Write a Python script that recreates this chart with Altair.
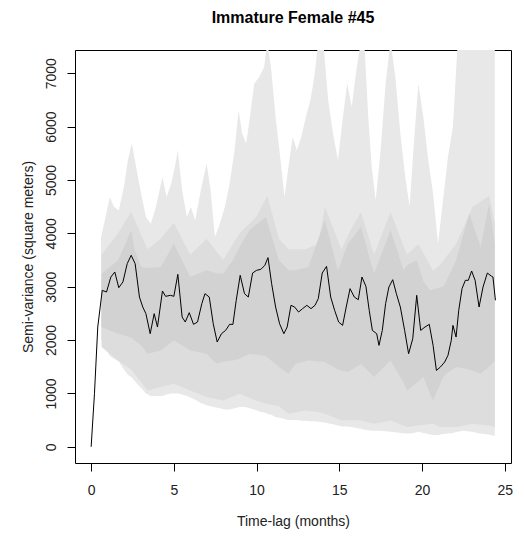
import altair as alt
import pandas as pd

# Empirical semi-variance (black line)
lag = [0.00, 0.20, 0.40, 0.67, 0.93, 1.19, 1.43, 1.67, 1.92, 2.18, 2.42, 2.66, 2.92, 3.12, 3.31, 3.57,
       3.81, 4.01, 4.31, 4.50, 4.80, 5.00, 5.24, 5.50, 5.69, 5.93, 6.19, 6.43, 6.69, 6.88, 7.14, 7.38,
       7.62, 7.88, 8.13, 8.37, 8.57, 8.77, 9.01, 9.27, 9.50, 9.76, 10.00, 10.26, 10.50, 10.69, 10.91,
       11.15, 11.39, 11.65, 11.85, 12.08, 12.30, 12.54, 12.78, 13.04, 13.29, 13.53, 13.73, 13.97,
       14.23, 14.48, 14.72, 14.96, 15.20, 15.42, 15.65, 15.91, 16.15, 16.37, 16.61, 16.81, 17.00,
       17.26, 17.40, 17.60, 17.80, 18.00, 18.23, 18.45, 18.69, 18.95, 19.19, 19.44, 19.68, 19.92,
       20.18, 20.44, 20.67, 20.87, 21.11, 21.37, 21.57, 21.77, 21.87, 22.06, 22.22, 22.42, 22.62,
       22.80, 23.00, 23.21, 23.45, 23.69, 23.95, 24.21, 24.29, 24.44]
semivar = [0, 994, 2244, 2931, 2900, 3181, 3275, 2981, 3088, 3431, 3588, 3431, 2806, 2619, 2494, 2119,
           2494, 2244, 2919, 2819, 2838, 2819, 3231, 2431, 2338, 2513, 2294, 2338, 2681, 2869, 2806, 2306,
           1963, 2119, 2181, 2294, 2294, 2744, 3213, 2869, 2806, 3256, 3306, 3325, 3400, 3544, 3056,
           2619, 2306, 2119, 2244, 2650, 2619, 2525, 2588, 2650, 2588, 2650, 2775, 3256,
           3381, 2806, 2556, 2338, 2275, 2619, 2963, 2806, 2756, 3181, 3006, 2556, 2181,
           2119, 1900, 2181, 2681, 2994, 3131, 2869, 2619, 2181, 1744, 2025, 2838, 2181,
           2244, 2294, 1900, 1431, 1494, 1588, 1713, 1994, 2275, 2056, 2556, 2963, 3119,
           3119, 3294, 3119, 2619, 2994, 3256, 3194, 3181, 2744]

# Outer (lightest) confidence band
outer_lag = [0.60, 0.87, 1.13, 1.39, 1.67, 1.98, 2.22, 2.46, 2.72, 3.02, 3.31, 3.61, 3.91, 4.31, 4.56,
             4.84, 5.06, 5.24, 5.50, 5.79, 6.03, 6.29, 6.63, 6.98, 7.22, 7.48, 7.78, 8.08, 8.37, 8.67,
             8.91, 9.13, 9.37, 9.60, 9.86, 10.16, 10.46, 10.65, 10.89, 11.15, 11.45, 11.69, 11.90,
             12.18, 12.44, 12.70, 12.98, 13.25, 13.49, 13.73, 14.03, 14.33, 14.62, 14.92, 15.22,
             15.48, 15.75, 16.03, 16.31, 16.51, 16.75, 16.96, 17.20, 17.50, 17.80, 18.10, 18.39,
             18.69, 18.99, 19.25, 19.48, 19.78, 20.08, 20.38, 20.67, 20.97, 21.27, 21.57, 21.87,
             22.16, 22.50, 23.00, 23.50, 24.00, 24.40]
outer_lo = [2000, 1850, 1700, 1650, 1600, 1450, 1350, 1300, 1200, 1100, 1000, 950, 950, 950, 980,
            1000, 1000, 1000, 980, 950, 920, 880, 820, 780, 760, 740, 720, 700, 700, 720,
            740, 750, 740, 720, 700, 660, 640, 620, 600, 560, 540, 520, 500,
            500, 500, 490, 490, 480, 480, 470, 460, 440, 420, 400, 380,
            380, 370, 350, 340, 320, 310, 300, 300, 300, 290, 280, 270,
            260, 250, 250, 260, 280, 260, 240, 220, 220, 240, 250, 260,
            280, 300, 280, 250, 230, 200]
outer_hi = [3931, 4306, 4681, 4494, 4431, 4869, 5369, 5681, 5244, 4744, 4306, 4181, 4494, 5056, 4681,
            4931, 5244, 5556, 4806, 4306, 4494, 4244, 4806, 5306, 4806, 3931, 4181, 4494, 4931, 5556,
            6306, 5869, 5681, 6181, 6806, 6931, 7119, 7600, 7056, 6181, 5369, 4681, 5181,
            5806, 5556, 5806, 6181, 6494, 6931, 7600, 7600, 6494, 5869, 5369, 6181,
            6806, 6369, 7056, 7600, 7600, 6181, 5244, 4619, 5556, 6806, 7600, 6931,
            5869, 5056, 4494, 5556, 6806, 6181, 5369, 4744, 3806, 4619, 5431, 5994,
            7600, 7600, 7600, 7600, 7600, 7600]

# Middle band
mid_lag = [0.63, 1.63, 2.42, 3.41, 4.21, 5.00, 5.99, 6.98, 7.98, 8.97, 9.96, 10.65, 11.35, 11.94,
           12.94, 13.73, 14.13, 15.12, 15.75, 16.31, 17.10, 18.10, 19.09, 19.78, 20.67, 21.07,
           22.06, 23.06, 24.05, 24.40]
mid_lo = [1869, 1619, 1450, 1056, 1119, 1181, 1056, 931, 869, 994, 869, 800, 760, 619,
          681, 650, 619, 494, 500, 494, 431, 494, 369, 400, 431, 369,
          369, 431, 400, 369]
mid_hi = [3600, 4000, 4400, 3700, 3900, 4200, 3600, 3900, 3500, 4000, 4300, 4700, 3900, 3700,
          3700, 3800, 4500, 3700, 4100, 4400, 3600, 4400, 3600, 3800, 3300, 3400,
          3800, 4500, 4700, 4200]

# Inner (darkest) band
inner_lag = [0.63, 1.63, 2.42, 2.62, 3.02, 3.41, 4.21, 5.00, 5.99, 6.98, 7.58, 7.98, 8.57, 8.97,
             9.56, 10.56, 11.35, 11.94, 12.34, 13.13, 14.13, 14.92, 15.52, 16.31, 17.10, 18.10,
             18.89, 19.09, 19.68, 20.08, 20.48, 20.67, 21.27, 21.47, 22.06, 22.86, 23.55, 24.05, 24.40]
inner_lo = [2244, 2119, 2050, 1994, 1900, 1744, 1806, 1994, 1806, 1744, 1556, 1600, 1619, 1650,
            1744, 1700, 1494, 1369, 1550, 1619, 1590, 1450, 1400, 1550, 1306, 1619,
            1200, 1056, 1200, 1306, 1000, 869, 1300, 1369, 1494, 1450, 1369, 1500, 1619]
inner_hi = [3244, 3494, 4056, 3700, 3369, 3350, 3369, 3806, 3181, 3306, 3250, 3244, 3500, 3744,
            4056, 4306, 3494, 3306, 3306, 3369, 4244, 3306, 3806, 4119, 3244, 4056,
            3306, 3400, 3494, 3100, 2931, 2950, 3000, 3100, 3494, 4369, 3744, 4556, 3806]

x_ticks = [0, 5, 10, 15, 20, 25]
y_ticks = [0, 1000, 2000, 3000, 4000, 5000, 6000, 7000]

line_df = pd.DataFrame({"lag": lag, "v": semivar})
outer_df = pd.DataFrame({"lag": outer_lag, "lo": outer_lo, "hi": outer_hi})
mid_df = pd.DataFrame({"lag": mid_lag, "lo": mid_lo, "hi": mid_hi})
inner_df = pd.DataFrame({"lag": inner_lag, "lo": inner_lo, "hi": inner_hi})

FONT = "Liberation Sans"
xscale = alt.Scale(domain=[-0.976, 25.38], nice=False, zero=False)
yscale = alt.Scale(domain=[-304, 7435], nice=False, zero=False)

xaxis = alt.Axis(values=x_ticks, title="Time-lag (months)", grid=False, domain=False,
                 tickSize=8, tickColor="black", labelPadding=12, titlePadding=17,
                 labelFontSize=14, titleFontSize=14, labelFont=FONT, titleFont=FONT,
                 titleFontWeight="normal", labelColor="#222222", titleColor="#222222")
yaxis = alt.Axis(values=y_ticks, title="Semi-variance (square meters)", grid=False, domain=False,
                 tickSize=8, tickColor="black", labelAngle=270, labelAlign="center",
                 labelBaseline="middle", labelPadding=16, titlePadding=9,
                 labelFontSize=14, titleFontSize=14, labelFont=FONT, titleFont=FONT,
                 titleFontWeight="normal", labelColor="#222222", titleColor="#222222",
                 format="d")


def band(df, color):
    return alt.Chart(df).mark_area(color=color, opacity=1, clip=True).encode(
        x=alt.X("lag:Q", scale=xscale, axis=xaxis),
        y=alt.Y("hi:Q", scale=yscale, axis=yaxis),
        y2="lo:Q",
    )


line = alt.Chart(line_df).mark_line(color="black", strokeWidth=1, clip=True).encode(
    x=alt.X("lag:Q", scale=xscale, axis=xaxis),
    y=alt.Y("v:Q", scale=yscale, axis=yaxis),
)

chart = alt.layer(
    band(outer_df, "#e8e8e8"),
    band(mid_df, "#dddddd"),
    band(inner_df, "#d2d2d2"),
    line,
).properties(
    width=436,
    height=413,
    title=alt.TitleParams("Immature Female #45", font=FONT, fontSize=16, fontWeight="bold",
                          anchor="middle", color="black", offset=24),
    autosize=alt.AutoSizeParams(type="none"),
    padding={"left": 67, "top": 42, "right": 5, "bottom": 66},
).configure_view(stroke="black", strokeWidth=1)

chart.save("out.html", embed_options={"renderer": "svg", "actions": False})
